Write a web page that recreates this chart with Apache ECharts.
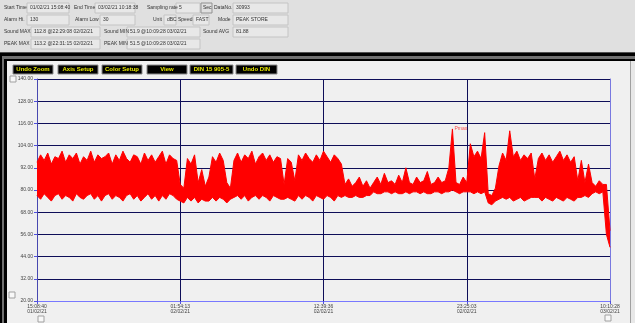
<!DOCTYPE html>
<html><head><meta charset="utf-8">
<script src="https://cdn.jsdelivr.net/npm/echarts@6/dist/echarts.min.js"></script>
<style>html,body{margin:0;padding:0;background:#e0e0e0;overflow:hidden}#c{width:635px;height:323px}</style>
</head><body><div id="c"></div>
<script>
// ---- data ----
const xTickLabels = ['15:08:40\n01/02/21','01:54:13\n02/02/21','12:39:36\n02/02/21','23:25:03\n02/02/21','10:10:28\n03/02/21'];
const yMin = 20, yMax = 140, yStep = 12;
// upper envelope of the level trace (dB), one value per time bucket
const highLevels = [
 95,99,96,100,94,98,97,101,95,99, 97,100,94,98,96,101,95,99,97,98,
 100,94,99,96,101,97,95,99,98,94, 100,96,99,95,98,101,94,99,97,96,
 83,81, 97,94,99, 84,91,82,87, 98,95,100,96, 84,81,
 96,100,95,99,97,101,94,98,100,96,99,95,98,97,
 83, 97,95, 85,
 99,96,100,97,95,99,96,101,98,95,99,97,94,
 83,86,82,84,87,82,85,81,
 84,87,83,89,84,85,83,88,84,92,84,83,87,84,85,90,83,84,87,84,85,92,
 113,
 84,83,87,84,
 105,98,101,97,111,
 78,77,81,
 93,
 100,96,112,98,101,96,99,97,100,
 86,
 97,100,96,99,95,98,101,96,99,95,98,
 85,96,84,94,
 84,82,85,83,
 83,58
];
// lower envelope of the level trace (dB)
const lowLevels = [
 77,75,78,76,74,77,78,75,77,76, 74,78,76,75,77,78,75,77,74,77,
 78,75,77,76,74,77,78,75,77,74, 76,78,75,77,74,77,75,78,77,75,
 74,73, 76,74,76, 73,75,74,74, 76,74,76,75, 73,75,
 76,77,75,77,74,76,77,75,77,76,74,77,76,75,
 75, 76,75, 74,
 77,75,77,76,74,77,76,75,77,76,74,77,76,
 77,76,76,77,76,76,77,77,
 79,78,78,79,79,78,79,78,78,79,78,79,79,78,79,78,78,79,79,78,79,79,
 80,
 79,78,79,79,
 79,78,79,78,79,
 73,72,74,
 75,
 76,75,76,74,75,76,74,75,76,
 76,
 76,74,76,75,74,76,75,74,76,75,74,
 76,76,77,76,
 78,79,78,79,
 56,49
];
const headerRows = [
  [['Start Time',4],['01/02/21 15:08:40',27,42],['End Time',74],['03/02/21 10:18:38',95,40],['Sampling rate',147],['5',176,24],['DataNo.',214],['30993',233,55]],
  [['Alarm Hi.',4],['130',27,42],['Alarm Low',75],['30',100,35],['Unit',153],['dBC',164,12],['Speed',178],['FAST',193,16],['Mode',218],['PEAK STORE',233,55]],
  [['Sound MAX',4],['112.8 @22:29:08 02/02/21',31,69],['Sound MIN',104],['51.9 @10:09:28 03/02/21',127,73],['Sound AVG',203],['81.88',233,55]],
  [['PEAK MAX',4],['113.2 @22:31:15 02/02/21',31,69],['PEAK MIN',104],['51.5 @10:09:28 03/02/21',127,73]]
];
const buttons = [['Undo Zoom',13,40],['Axis Setup',58,40],['Color Setup',102,40],['View',147,40],['DIN 15 905-5',190,43],['Undo DIN',236,41]];

// ---- build ----
const FONT = '"Liberation Sans", Arial, sans-serif';
const cats = highLevels.map((_, i) => i);
const range = highLevels.map((h, i) => h - lowLevels[i]);
let iMax = 0; highLevels.forEach((v, i) => { if (v > highLevels[iMax]) iMax = i; });

const g = [];
g.push({type:'rect', shape:{x:0,y:0,width:635,height:53}, style:{fill:'#e0e0e0'}, silent:true, z:0});
g.push({type:'rect', shape:{x:0,y:52,width:635,height:1}, style:{fill:'#505050'}, z:0});
g.push({type:'rect', shape:{x:0,y:53,width:635,height:270}, style:{fill:'#000'}, z:0});
g.push({type:'rect', shape:{x:2,y:56,width:633,height:267}, style:{fill:'#707070'}, z:0});
g.push({type:'rect', shape:{x:4,y:59,width:631,height:264}, style:{fill:'#000'}, z:0});
g.push({type:'rect', shape:{x:7,y:61,width:623,height:262}, style:{fill:'#f0f0f0'}, z:0});
g.push({type:'rect', shape:{x:630,y:61,width:1,height:262}, style:{fill:'#a0a0a0'}, z:0});
g.push({type:'rect', shape:{x:631,y:61,width:4,height:262}, style:{fill:'#e8e8e8'}, z:0});
const rowY = [8, 20, 32, 44];
headerRows.forEach((row, r) => {
  row.forEach(f => {
    if (f.length === 3) {
      g.push({type:'rect', shape:{x:f[1],y:rowY[r]-5,width:f[2],height:10}, style:{fill:'#e8e8e8', stroke:'#c4c4c4', lineWidth:1}, z:1});
      g.push({type:'text', x:f[1]+3, y:rowY[r], style:{text:f[0], font:'5px '+FONT, fill:'#333', textVerticalAlign:'middle'}, z:2});
    } else {
      g.push({type:'text', x:f[1], y:rowY[r], style:{text:f[0], font:'5px '+FONT, fill:'#333', textVerticalAlign:'middle'}, z:2});
    }
  });
});
// "Sec" button
g.push({type:'rect', shape:{x:201,y:3,width:11,height:10}, style:{fill:'#e0e0e0', stroke:'#909090', lineWidth:1}, z:1});
g.push({type:'text', x:203, y:8, style:{text:'Sec', font:'5px '+FONT, fill:'#333', textVerticalAlign:'middle'}, z:2});
buttons.forEach(b => {
  g.push({type:'rect', shape:{x:b[1],y:65,width:b[2],height:9}, style:{fill:'#000', stroke:'#8a8a8a', lineWidth:1}, z:1});
  g.push({type:'text', x:b[1]+b[2]/2, y:69.5, style:{text:b[0], font:'bold 6px '+FONT, fill:'#e8e800', textAlign:'center', textVerticalAlign:'middle'}, z:2});
});
// small scroll buttons
[[10,76],[9,292],[38,316],[605,315]].forEach(p => {
  g.push({type:'rect', shape:{x:p[0],y:p[1],width:6,height:6}, style:{fill:'#f8f8f8', stroke:'#a0a0a0', lineWidth:1}, z:1});
});

const chart = echarts.init(document.getElementById('c'), null, {renderer:'canvas'});
chart.setOption({
  animation: false,
  backgroundColor: 'transparent',
  graphic: g,
  grid: {left:37, right:25, top:79, bottom:22, show:true, backgroundColor:'#000', borderWidth:0, containLabel:false, outerBoundsMode:'none'},
  xAxis: {
    type:'category', data:cats, boundaryGap:false,
    axisLine:{show:true, lineStyle:{color:'#7878ff', width:1}},
    axisTick:{show:true, interval:39, length:3, lineStyle:{color:'#5050e0'}},
    axisLabel:{interval:39, fontSize:5, lineHeight:5, color:'#444', margin:3, fontFamily:FONT,
      formatter:(v, idx) => xTickLabels[Math.round(idx/40)] || ''},
    splitLine:{show:true, interval:39, lineStyle:{color:'#0e0e58', width:1}}
  },
  yAxis: [{
    type:'value', min:yMin, max:yMax, interval:yStep,
    axisLine:{show:true, lineStyle:{color:'#4848b0', width:1}},
    axisTick:{show:true, length:3, lineStyle:{color:'#5050e0'}},
    axisLabel:{fontSize:5, color:'#444', margin:4, fontFamily:FONT, formatter:v => v.toFixed(2)},
    splitLine:{show:true, lineStyle:{color:'#0e0e58', width:1}}
  }, {
    type:'value', min:yMin, max:yMax, interval:yStep, position:'right',
    axisLine:{show:true, lineStyle:{color:'#7878e0', width:1}},
    axisTick:{show:false}, axisLabel:{show:false}, splitLine:{show:false}
  }],
  series: [
    {type:'line', name:'low', data:lowLevels, stack:'env', symbol:'none', silent:true,
      lineStyle:{color:'#ff0000', width:1}, z:3},
    {type:'line', name:'high', data:range, stack:'env', symbol:'none', silent:true,
      lineStyle:{color:'#ff0000', width:1}, areaStyle:{color:'#ff0000', opacity:1}, z:3},
    {type:'scatter', data:[[iMax, highLevels[iMax]]], symbolSize:0, silent:true, z:4,
      label:{show:true, position:'right', distance:2, formatter:'Pmax', fontSize:5, color:'#ff2020', fontFamily:FONT}}
  ]
});
</script>
</body></html>
